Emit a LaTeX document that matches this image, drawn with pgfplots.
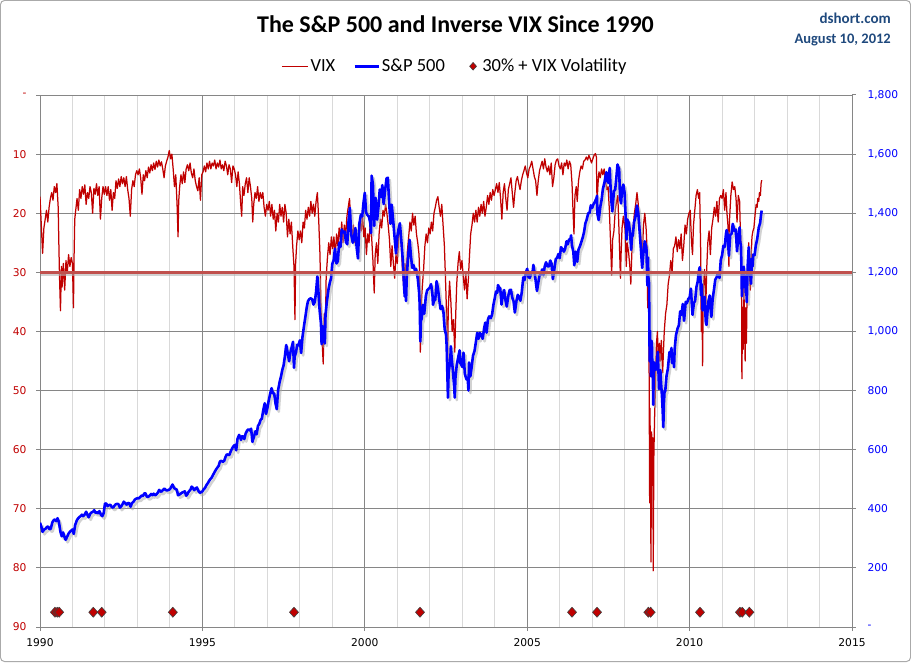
\documentclass[border=0pt]{standalone}
\usepackage{fontspec}
\setmainfont{Carlito}
\newfontfamily\tickfont{DejaVu Sans}
\usepackage{pgfplots}
\pgfplotsset{compat=1.18}
\usepackage{pgfplotstable}
\definecolor{vixred}{RGB}{192,0,0}
\definecolor{spblue}{RGB}{0,0,255}
\definecolor{thirty}{RGB}{192,80,77}
\definecolor{gmaj}{RGB}{134,134,134}
\definecolor{gmin}{RGB}{217,217,217}
\definecolor{hdr}{RGB}{31,73,125}
\pgfplotsset{
  legvix/.style={legend image code/.code={\draw[##1] (0pt,0pt) -- (26pt,0pt);}},
  legsp/.style={legend image code/.code={\draw[##1] (0pt,0pt) -- (24pt,0pt);}},
  legdia/.style={legend image code/.code={\path (0pt,0pt) (17pt,0pt); \draw[##1, only marks, mark size=3.8pt] plot coordinates {(10pt,0pt)};}},
}

\pgfplotstableread[row sep=\\]{
t v\\
1990.00 17.2\\ 1990.04 22.0\\ 1990.08 26.8\\ 1990.12 22.5\\ 1990.16 21.0\\ 1990.20 19.5\\ 1990.24 21.5\\ 1990.28 19.0\\ 1990.32 17.5\\ 1990.36 16.5\\ 1990.40 17.8\\ 1990.44 15.5\\ 1990.48 16.5\\ 1990.52 15.0\\ 1990.56 19.0\\ 1990.58 25.0\\ 1990.60 30.5\\ 1990.63 36.5\\ 1990.66 29.0\\ 1990.68 32.5\\ 1990.72 28.5\\ 1990.76 33.0\\ 1990.80 28.0\\ 1990.84 30.0\\ 1990.88 27.0\\ 1990.92 29.0\\ 1990.96 27.5\\
1991.00 28.5\\ 1991.03 36.0\\ 1991.05 27.0\\ 1991.07 21.0\\ 1991.10 19.5\\ 1991.14 17.5\\ 1991.18 19.5\\ 1991.22 16.0\\ 1991.26 17.5\\ 1991.30 15.5\\ 1991.34 16.8\\ 1991.38 15.2\\ 1991.42 18.5\\ 1991.46 16.5\\ 1991.50 17.5\\ 1991.54 15.5\\ 1991.58 16.5\\ 1991.62 20.0\\ 1991.66 15.8\\ 1991.70 16.8\\ 1991.74 15.0\\ 1991.78 17.0\\ 1991.82 15.5\\ 1991.86 21.0\\ 1991.90 17.5\\ 1991.94 15.5\\ 1991.98 16.8\\
1992.02 15.5\\ 1992.06 17.0\\ 1992.10 15.5\\ 1992.14 17.8\\ 1992.18 16.0\\ 1992.22 19.5\\ 1992.26 16.5\\ 1992.30 17.5\\ 1992.34 14.5\\ 1992.38 15.8\\ 1992.42 14.2\\ 1992.46 15.5\\ 1992.50 13.8\\ 1992.54 15.0\\ 1992.58 14.0\\ 1992.62 15.5\\ 1992.66 13.8\\ 1992.70 16.0\\ 1992.74 17.5\\ 1992.78 20.5\\ 1992.82 16.0\\ 1992.86 14.5\\ 1992.90 15.5\\ 1992.94 13.5\\ 1992.98 12.8\\
1993.02 13.5\\ 1993.06 12.5\\ 1993.10 14.0\\ 1993.14 16.8\\ 1993.18 13.5\\ 1993.22 14.5\\ 1993.26 12.8\\ 1993.30 14.0\\ 1993.34 12.2\\ 1993.38 13.2\\ 1993.42 11.8\\ 1993.46 12.8\\ 1993.50 11.5\\ 1993.54 12.6\\ 1993.58 11.2\\ 1993.62 12.2\\ 1993.66 11.0\\ 1993.70 12.0\\ 1993.74 11.3\\ 1993.78 12.5\\ 1993.82 14.0\\ 1993.86 12.0\\ 1993.90 11.2\\ 1993.94 10.5\\ 1993.98 9.4\\
1994.02 10.8\\ 1994.06 10.0\\ 1994.10 12.5\\ 1994.14 15.5\\ 1994.18 13.5\\ 1994.22 18.5\\ 1994.25 24.0\\ 1994.27 18.0\\ 1994.30 15.5\\ 1994.34 13.5\\ 1994.38 15.0\\ 1994.42 13.0\\ 1994.46 14.8\\ 1994.50 12.5\\ 1994.54 11.8\\ 1994.58 12.8\\ 1994.62 11.5\\ 1994.66 13.2\\ 1994.70 14.0\\ 1994.74 12.5\\ 1994.78 14.5\\ 1994.82 15.5\\ 1994.86 16.2\\ 1994.90 14.0\\ 1994.94 17.8\\ 1994.98 13.5\\
1995.02 13.0\\ 1995.06 12.0\\ 1995.10 13.0\\ 1995.14 11.5\\ 1995.18 12.5\\ 1995.22 11.2\\ 1995.26 12.5\\ 1995.30 11.5\\ 1995.34 12.0\\ 1995.38 11.0\\ 1995.42 12.5\\ 1995.46 11.5\\ 1995.50 12.2\\ 1995.54 11.0\\ 1995.58 12.5\\ 1995.62 11.8\\ 1995.66 12.8\\ 1995.70 11.2\\ 1995.74 12.0\\ 1995.78 13.5\\ 1995.82 11.8\\ 1995.86 12.5\\ 1995.90 14.8\\ 1995.94 12.0\\ 1995.98 12.5\\
1996.02 13.5\\ 1996.06 15.5\\ 1996.10 13.0\\ 1996.14 15.0\\ 1996.18 18.5\\ 1996.21 20.5\\ 1996.24 15.5\\ 1996.28 17.0\\ 1996.32 15.0\\ 1996.36 14.0\\ 1996.40 16.5\\ 1996.44 14.0\\ 1996.48 15.5\\ 1996.52 17.5\\ 1996.55 21.5\\ 1996.58 18.5\\ 1996.62 16.5\\ 1996.66 17.5\\ 1996.70 15.5\\ 1996.74 18.0\\ 1996.78 16.5\\ 1996.82 17.5\\ 1996.86 16.5\\ 1996.90 19.0\\ 1996.94 20.5\\ 1996.98 18.5\\
1997.02 19.5\\ 1997.06 18.0\\ 1997.10 20.5\\ 1997.14 18.5\\ 1997.18 21.0\\ 1997.22 19.5\\ 1997.26 23.0\\ 1997.30 20.0\\ 1997.34 21.5\\ 1997.38 18.5\\ 1997.42 20.5\\ 1997.46 19.0\\ 1997.50 21.5\\ 1997.54 18.5\\ 1997.58 20.0\\ 1997.62 24.0\\ 1997.66 21.0\\ 1997.70 23.5\\ 1997.74 21.5\\ 1997.78 25.5\\ 1997.82 29.0\\ 1997.85 38.0\\ 1997.87 28.5\\ 1997.90 25.5\\ 1997.94 23.0\\ 1997.98 24.5\\
1998.02 23.0\\ 1998.06 25.0\\ 1998.10 21.5\\ 1998.14 22.5\\ 1998.18 19.5\\ 1998.22 21.0\\ 1998.26 19.0\\ 1998.30 20.5\\ 1998.34 18.0\\ 1998.38 20.0\\ 1998.42 18.5\\ 1998.46 20.5\\ 1998.50 18.0\\ 1998.54 16.5\\ 1998.58 21.0\\ 1998.62 27.0\\ 1998.65 36.0\\ 1998.68 41.0\\ 1998.72 45.5\\ 1998.75 37.0\\ 1998.78 42.0\\ 1998.81 31.0\\ 1998.85 27.5\\ 1998.89 25.0\\ 1998.93 27.0\\ 1998.97 24.0\\
1999.01 26.0\\ 1999.05 24.0\\ 1999.09 27.5\\ 1999.13 23.5\\ 1999.17 25.5\\ 1999.21 22.5\\ 1999.25 24.5\\ 1999.29 21.5\\ 1999.33 25.0\\ 1999.37 22.0\\ 1999.41 24.0\\ 1999.45 20.5\\ 1999.49 19.0\\ 1999.53 17.5\\ 1999.57 21.5\\ 1999.61 24.5\\ 1999.65 22.0\\ 1999.69 25.0\\ 1999.73 23.0\\ 1999.77 27.0\\ 1999.81 24.0\\ 1999.85 21.5\\ 1999.89 23.0\\ 1999.93 20.5\\ 1999.97 24.0\\
2000.01 22.5\\ 2000.05 27.0\\ 2000.09 23.5\\ 2000.13 25.0\\ 2000.17 21.5\\ 2000.21 24.0\\ 2000.25 28.0\\ 2000.29 33.5\\ 2000.32 27.0\\ 2000.36 25.0\\ 2000.40 28.5\\ 2000.44 23.5\\ 2000.48 21.0\\ 2000.52 22.5\\ 2000.56 19.5\\ 2000.60 20.5\\ 2000.64 18.5\\ 2000.68 20.0\\ 2000.72 22.0\\ 2000.76 24.5\\ 2000.80 29.0\\ 2000.84 25.5\\ 2000.88 28.5\\ 2000.92 31.0\\ 2000.96 27.0\\
2001.00 28.5\\ 2001.04 24.5\\ 2001.08 22.0\\ 2001.12 25.0\\ 2001.16 29.5\\ 2001.20 32.5\\ 2001.24 28.5\\ 2001.27 33.0\\ 2001.31 26.5\\ 2001.35 24.0\\ 2001.39 21.5\\ 2001.43 23.0\\ 2001.47 20.0\\ 2001.51 22.0\\ 2001.55 20.5\\ 2001.59 23.5\\ 2001.63 25.0\\ 2001.67 27.0\\ 2001.69 31.0\\ 2001.71 43.5\\ 2001.73 36.0\\ 2001.77 32.5\\ 2001.81 29.5\\ 2001.85 25.5\\ 2001.89 23.5\\ 2001.93 25.0\\ 2001.97 22.5\\
2002.01 23.5\\ 2002.05 21.5\\ 2002.09 23.0\\ 2002.13 20.0\\ 2002.17 19.0\\ 2002.21 17.8\\ 2002.25 17.2\\ 2002.29 19.0\\ 2002.33 20.5\\ 2002.37 18.5\\ 2002.41 22.0\\ 2002.45 25.5\\ 2002.49 32.0\\ 2002.53 39.5\\ 2002.55 45.0\\ 2002.57 36.0\\ 2002.61 31.5\\ 2002.65 35.0\\ 2002.69 40.0\\ 2002.73 38.0\\ 2002.77 43.5\\ 2002.80 37.0\\ 2002.83 32.0\\ 2002.87 28.5\\ 2002.91 26.5\\ 2002.95 29.5\\ 2002.99 28.0\\
2003.03 30.5\\ 2003.07 33.0\\ 2003.11 30.0\\ 2003.15 34.5\\ 2003.19 31.0\\ 2003.22 27.5\\ 2003.26 23.5\\ 2003.30 22.0\\ 2003.34 20.0\\ 2003.38 21.5\\ 2003.42 19.5\\ 2003.46 21.5\\ 2003.50 19.0\\ 2003.54 20.5\\ 2003.58 18.5\\ 2003.62 20.0\\ 2003.66 18.0\\ 2003.70 20.5\\ 2003.74 19.0\\ 2003.78 17.0\\ 2003.82 18.5\\ 2003.86 16.5\\ 2003.90 17.8\\ 2003.94 16.0\\ 2003.98 17.0\\
2004.02 16.0\\ 2004.06 15.0\\ 2004.10 16.5\\ 2004.14 14.8\\ 2004.18 17.5\\ 2004.22 21.0\\ 2004.26 16.5\\ 2004.30 15.0\\ 2004.34 17.5\\ 2004.38 19.5\\ 2004.42 16.0\\ 2004.46 15.0\\ 2004.50 14.0\\ 2004.54 16.5\\ 2004.58 19.0\\ 2004.62 16.5\\ 2004.66 14.5\\ 2004.70 13.8\\ 2004.74 15.0\\ 2004.78 16.0\\ 2004.82 14.5\\ 2004.86 13.5\\ 2004.90 12.8\\ 2004.94 12.0\\ 2004.98 13.2\\
2005.02 14.0\\ 2005.06 12.5\\ 2005.10 12.0\\ 2005.14 11.2\\ 2005.18 12.5\\ 2005.22 13.8\\ 2005.26 14.5\\ 2005.30 17.0\\ 2005.34 14.5\\ 2005.38 12.8\\ 2005.42 12.0\\ 2005.46 11.2\\ 2005.50 12.5\\ 2005.54 10.8\\ 2005.58 12.2\\ 2005.62 13.0\\ 2005.66 12.0\\ 2005.70 13.5\\ 2005.74 11.5\\ 2005.78 15.5\\ 2005.82 14.0\\ 2005.86 11.8\\ 2005.90 11.0\\ 2005.94 10.8\\ 2005.98 12.0\\
2006.02 12.5\\ 2006.06 11.5\\ 2006.10 13.5\\ 2006.14 11.5\\ 2006.18 12.0\\ 2006.22 11.0\\ 2006.26 12.5\\ 2006.30 11.2\\ 2006.34 11.8\\ 2006.38 15.0\\ 2006.41 19.5\\ 2006.44 23.5\\ 2006.47 17.0\\ 2006.51 15.5\\ 2006.54 18.0\\ 2006.58 14.5\\ 2006.62 13.0\\ 2006.66 12.0\\ 2006.70 12.5\\ 2006.74 11.2\\ 2006.78 11.0\\ 2006.82 10.5\\ 2006.86 11.0\\ 2006.90 10.2\\ 2006.94 10.8\\ 2006.98 11.5\\
2007.02 10.8\\ 2007.06 10.2\\ 2007.10 9.9\\ 2007.13 10.5\\ 2007.15 18.5\\ 2007.18 15.0\\ 2007.21 13.0\\ 2007.25 14.0\\ 2007.29 12.5\\ 2007.33 13.5\\ 2007.37 12.5\\ 2007.41 14.5\\ 2007.45 16.0\\ 2007.49 15.5\\ 2007.53 19.5\\ 2007.57 25.5\\ 2007.60 30.5\\ 2007.63 24.5\\ 2007.67 23.0\\ 2007.71 19.5\\ 2007.75 18.0\\ 2007.79 17.0\\ 2007.83 23.5\\ 2007.87 31.0\\ 2007.89 27.0\\ 2007.92 22.5\\ 2007.96 20.5\\
2008.02 23.0\\ 2008.05 29.0\\ 2008.08 25.0\\ 2008.12 26.5\\ 2008.16 29.0\\ 2008.19 32.0\\ 2008.22 27.0\\ 2008.26 22.5\\ 2008.30 20.0\\ 2008.34 18.5\\ 2008.38 16.5\\ 2008.42 18.5\\ 2008.46 22.0\\ 2008.50 24.0\\ 2008.54 27.5\\ 2008.58 22.0\\ 2008.62 20.0\\ 2008.66 22.5\\ 2008.69 26.0\\ 2008.71 36.0\\ 2008.73 32.0\\ 2008.75 42.0\\ 2008.77 69.0\\ 2008.78 53.0\\ 2008.80 66.0\\ 2008.81 79.0\\ 2008.83 57.0\\ 2008.85 66.0\\ 2008.87 58.0\\ 2008.88 80.5\\ 2008.90 61.0\\ 2008.92 55.0\\ 2008.94 51.0\\ 2008.96 46.0\\ 2008.98 42.0\\
2009.01 40.0\\ 2009.04 46.0\\ 2009.07 42.0\\ 2009.10 45.0\\ 2009.13 41.5\\ 2009.17 47.0\\ 2009.19 44.0\\ 2009.22 40.0\\ 2009.26 37.0\\ 2009.30 35.5\\ 2009.34 32.0\\ 2009.38 30.5\\ 2009.42 28.0\\ 2009.46 30.0\\ 2009.50 26.0\\ 2009.54 25.5\\ 2009.58 24.0\\ 2009.62 26.5\\ 2009.66 24.5\\ 2009.70 26.0\\ 2009.74 23.5\\ 2009.78 28.0\\ 2009.82 25.5\\ 2009.86 22.0\\ 2009.90 23.5\\ 2009.94 21.0\\ 2009.98 20.0\\
2010.02 19.5\\ 2010.06 25.0\\ 2010.09 27.0\\ 2010.12 22.0\\ 2010.16 19.5\\ 2010.20 17.0\\ 2010.24 16.0\\ 2010.28 17.5\\ 2010.31 16.5\\ 2010.34 26.0\\ 2010.36 40.0\\ 2010.38 33.0\\ 2010.40 45.8\\ 2010.42 33.0\\ 2010.46 29.5\\ 2010.50 35.5\\ 2010.53 29.0\\ 2010.56 25.0\\ 2010.60 23.0\\ 2010.64 27.0\\ 2010.68 22.5\\ 2010.72 21.0\\ 2010.76 19.0\\ 2010.80 20.5\\ 2010.84 18.0\\ 2010.88 21.5\\ 2010.92 17.5\\ 2010.96 17.0\\
2011.00 17.5\\ 2011.04 16.0\\ 2011.08 19.5\\ 2011.12 16.5\\ 2011.15 20.0\\ 2011.18 22.0\\ 2011.21 29.0\\ 2011.23 21.0\\ 2011.27 17.0\\ 2011.31 14.7\\ 2011.35 16.0\\ 2011.39 15.5\\ 2011.43 17.5\\ 2011.46 21.5\\ 2011.50 17.0\\ 2011.54 18.0\\ 2011.56 22.5\\ 2011.58 25.0\\ 2011.60 32.0\\ 2011.61 48.0\\ 2011.63 36.0\\ 2011.65 43.0\\ 2011.67 32.0\\ 2011.69 38.0\\ 2011.71 45.0\\ 2011.73 36.0\\ 2011.75 42.0\\ 2011.77 33.0\\ 2011.79 29.0\\ 2011.82 25.0\\ 2011.85 31.0\\ 2011.87 33.0\\ 2011.89 28.0\\ 2011.92 24.0\\ 2011.95 23.0\\ 2011.98 22.5\\
2012.02 20.0\\ 2012.05 18.5\\ 2012.08 19.0\\ 2012.10 17.5\\ 2012.13 18.0\\ 2012.15 16.5\\ 2012.18 17.0\\ 2012.20 15.0\\ 2012.22 14.4\\
}\vixdata

\pgfplotstableread[row sep=\\]{
t s\\
1990.00 353\\ 1990.04 340\\ 1990.08 322\\ 1990.13 330\\ 1990.17 332\\ 1990.21 338\\ 1990.25 340\\ 1990.29 331\\ 1990.33 332\\ 1990.38 354\\ 1990.42 361\\ 1990.46 364\\ 1990.50 358\\ 1990.54 368\\ 1990.58 356\\ 1990.63 322\\ 1990.67 307\\ 1990.71 320\\ 1990.75 306\\ 1990.79 295\\ 1990.83 304\\ 1990.88 316\\ 1990.92 322\\ 1990.96 326\\
1991.00 330\\ 1991.04 315\\ 1991.08 344\\ 1991.13 360\\ 1991.17 367\\ 1991.21 372\\ 1991.25 375\\ 1991.29 380\\ 1991.33 375\\ 1991.38 381\\ 1991.42 390\\ 1991.46 380\\ 1991.50 371\\ 1991.54 382\\ 1991.58 387\\ 1991.63 390\\ 1991.67 395\\ 1991.71 386\\ 1991.75 388\\ 1991.79 385\\ 1991.83 392\\ 1991.88 379\\ 1991.92 375\\ 1991.96 385\\
1992.00 417\\ 1992.04 418\\ 1992.08 409\\ 1992.13 413\\ 1992.17 413\\ 1992.21 406\\ 1992.25 404\\ 1992.29 410\\ 1992.33 415\\ 1992.38 417\\ 1992.42 415\\ 1992.46 404\\ 1992.50 408\\ 1992.54 415\\ 1992.58 424\\ 1992.63 418\\ 1992.67 414\\ 1992.71 420\\ 1992.75 418\\ 1992.79 407\\ 1992.83 419\\ 1992.88 424\\ 1992.92 431\\ 1992.96 434\\
1993.00 436\\ 1993.04 435\\ 1993.08 439\\ 1993.13 445\\ 1993.17 443\\ 1993.21 452\\ 1993.25 452\\ 1993.29 441\\ 1993.33 440\\ 1993.38 445\\ 1993.42 450\\ 1993.46 446\\ 1993.50 451\\ 1993.54 446\\ 1993.58 448\\ 1993.63 455\\ 1993.67 464\\ 1993.71 458\\ 1993.75 459\\ 1993.79 464\\ 1993.83 468\\ 1993.88 463\\ 1993.92 462\\ 1993.96 464\\
1994.00 466\\ 1994.04 474\\ 1994.08 482\\ 1994.13 470\\ 1994.17 467\\ 1994.21 465\\ 1994.25 446\\ 1994.29 448\\ 1994.33 451\\ 1994.38 455\\ 1994.42 457\\ 1994.46 459\\ 1994.50 444\\ 1994.54 450\\ 1994.58 458\\ 1994.63 464\\ 1994.67 475\\ 1994.71 470\\ 1994.75 463\\ 1994.79 469\\ 1994.83 472\\ 1994.88 460\\ 1994.92 454\\ 1994.96 456\\
1995.00 459\\ 1995.04 466\\ 1995.08 470\\ 1995.13 481\\ 1995.17 487\\ 1995.21 495\\ 1995.25 501\\ 1995.29 506\\ 1995.33 515\\ 1995.38 525\\ 1995.42 533\\ 1995.46 539\\ 1995.50 545\\ 1995.54 560\\ 1995.58 562\\ 1995.63 559\\ 1995.67 562\\ 1995.71 575\\ 1995.75 584\\ 1995.79 583\\ 1995.83 582\\ 1995.88 596\\ 1995.92 605\\ 1995.96 612\\
1996.00 616\\ 1996.04 598\\ 1996.08 636\\ 1996.13 650\\ 1996.17 640\\ 1996.19 633\\ 1996.21 645\\ 1996.25 645\\ 1996.29 636\\ 1996.33 654\\ 1996.38 665\\ 1996.42 669\\ 1996.46 665\\ 1996.50 671\\ 1996.54 626\\ 1996.56 635\\ 1996.58 640\\ 1996.63 662\\ 1996.67 652\\ 1996.71 680\\ 1996.75 687\\ 1996.79 700\\ 1996.83 705\\ 1996.88 737\\ 1996.92 757\\ 1996.96 721\\
1997.00 741\\ 1997.04 765\\ 1997.08 786\\ 1997.13 808\\ 1997.17 791\\ 1997.21 790\\ 1997.25 757\\ 1997.29 737\\ 1997.33 801\\ 1997.38 830\\ 1997.42 848\\ 1997.46 870\\ 1997.50 885\\ 1997.54 916\\ 1997.58 954\\ 1997.63 925\\ 1997.67 899\\ 1997.71 929\\ 1997.75 947\\ 1997.79 965\\ 1997.82 877\\ 1997.84 915\\ 1997.88 928\\ 1997.92 955\\ 1997.96 953\\
1998.00 970\\ 1998.04 927\\ 1998.08 980\\ 1998.13 1020\\ 1998.17 1049\\ 1998.21 1080\\ 1998.25 1102\\ 1998.29 1109\\ 1998.33 1112\\ 1998.38 1109\\ 1998.42 1091\\ 1998.46 1100\\ 1998.50 1134\\ 1998.54 1187\\ 1998.58 1121\\ 1998.61 1070\\ 1998.65 1027\\ 1998.67 957\\ 1998.71 1017\\ 1998.75 986\\ 1998.77 959\\ 1998.79 1056\\ 1998.83 1099\\ 1998.88 1141\\ 1998.92 1164\\ 1998.96 1180\\
1999.00 1229\\ 1999.04 1240\\ 1999.08 1280\\ 1999.13 1230\\ 1999.17 1238\\ 1999.21 1300\\ 1999.25 1286\\ 1999.29 1345\\ 1999.33 1335\\ 1999.38 1338\\ 1999.42 1302\\ 1999.46 1295\\ 1999.50 1373\\ 1999.54 1418\\ 1999.58 1329\\ 1999.63 1300\\ 1999.67 1320\\ 1999.71 1350\\ 1999.75 1283\\ 1999.79 1247\\ 1999.83 1363\\ 1999.88 1395\\ 1999.92 1389\\ 1999.96 1435\\
2000.00 1469\\ 2000.04 1402\\ 2000.08 1394\\ 2000.13 1388\\ 2000.17 1366\\ 2000.19 1333\\ 2000.21 1527\\ 2000.25 1499\\ 2000.29 1357\\ 2000.31 1440\\ 2000.33 1452\\ 2000.38 1378\\ 2000.42 1421\\ 2000.46 1480\\ 2000.50 1455\\ 2000.54 1495\\ 2000.58 1431\\ 2000.63 1482\\ 2000.67 1518\\ 2000.71 1520\\ 2000.75 1437\\ 2000.79 1364\\ 2000.83 1429\\ 2000.88 1367\\ 2000.92 1315\\ 2000.96 1264\\
2001.00 1320\\ 2001.04 1347\\ 2001.08 1366\\ 2001.13 1300\\ 2001.17 1240\\ 2001.21 1150\\ 2001.23 1118\\ 2001.25 1160\\ 2001.27 1103\\ 2001.29 1180\\ 2001.33 1249\\ 2001.38 1310\\ 2001.42 1256\\ 2001.46 1215\\ 2001.50 1224\\ 2001.54 1208\\ 2001.58 1211\\ 2001.63 1180\\ 2001.67 1134\\ 2001.69 1092\\ 2001.71 966\\ 2001.73 1040\\ 2001.75 1041\\ 2001.79 1090\\ 2001.83 1060\\ 2001.88 1120\\ 2001.92 1139\\ 2001.96 1144\\
2002.00 1148\\ 2002.04 1160\\ 2002.08 1130\\ 2002.10 1090\\ 2002.13 1104\\ 2002.17 1107\\ 2002.21 1170\\ 2002.25 1147\\ 2002.29 1110\\ 2002.33 1076\\ 2002.38 1086\\ 2002.42 1067\\ 2002.46 1007\\ 2002.50 990\\ 2002.52 952\\ 2002.56 776\\ 2002.58 860\\ 2002.63 900\\ 2002.65 950\\ 2002.67 916\\ 2002.71 870\\ 2002.75 815\\ 2002.77 776\\ 2002.79 842\\ 2002.83 886\\ 2002.88 915\\ 2002.92 936\\ 2002.94 893\\ 2002.96 890\\
2003.00 880\\ 2003.04 928\\ 2003.08 856\\ 2003.13 838\\ 2003.17 841\\ 2003.19 800\\ 2003.21 895\\ 2003.25 848\\ 2003.29 880\\ 2003.33 917\\ 2003.38 935\\ 2003.42 964\\ 2003.46 995\\ 2003.50 975\\ 2003.54 995\\ 2003.58 990\\ 2003.63 975\\ 2003.67 1008\\ 2003.71 1030\\ 2003.75 996\\ 2003.79 1040\\ 2003.83 1051\\ 2003.88 1045\\ 2003.92 1058\\ 2003.96 1090\\
2004.00 1112\\ 2004.04 1135\\ 2004.08 1131\\ 2004.10 1157\\ 2004.13 1150\\ 2004.17 1145\\ 2004.21 1091\\ 2004.25 1126\\ 2004.29 1140\\ 2004.33 1107\\ 2004.37 1084\\ 2004.42 1121\\ 2004.46 1140\\ 2004.50 1141\\ 2004.54 1115\\ 2004.58 1102\\ 2004.62 1064\\ 2004.67 1104\\ 2004.71 1124\\ 2004.75 1115\\ 2004.79 1104\\ 2004.83 1130\\ 2004.88 1183\\ 2004.92 1174\\ 2004.96 1200\\
2005.00 1212\\ 2005.04 1184\\ 2005.08 1181\\ 2005.13 1200\\ 2005.17 1204\\ 2005.19 1225\\ 2005.25 1181\\ 2005.30 1137\\ 2005.33 1157\\ 2005.38 1190\\ 2005.42 1192\\ 2005.46 1210\\ 2005.50 1191\\ 2005.54 1220\\ 2005.58 1234\\ 2005.63 1220\\ 2005.67 1220\\ 2005.71 1240\\ 2005.75 1229\\ 2005.79 1177\\ 2005.83 1207\\ 2005.88 1245\\ 2005.92 1249\\ 2005.96 1262\\
2006.00 1248\\ 2006.04 1285\\ 2006.08 1280\\ 2006.13 1270\\ 2006.17 1281\\ 2006.21 1305\\ 2006.25 1295\\ 2006.29 1312\\ 2006.33 1311\\ 2006.35 1325\\ 2006.38 1290\\ 2006.42 1270\\ 2006.45 1224\\ 2006.50 1270\\ 2006.54 1236\\ 2006.58 1277\\ 2006.63 1290\\ 2006.67 1304\\ 2006.71 1318\\ 2006.75 1336\\ 2006.79 1365\\ 2006.83 1378\\ 2006.88 1400\\ 2006.92 1401\\ 2006.96 1427\\
2007.00 1418\\ 2007.04 1430\\ 2007.08 1438\\ 2007.13 1450\\ 2007.15 1459\\ 2007.16 1399\\ 2007.20 1377\\ 2007.25 1421\\ 2007.29 1445\\ 2007.33 1482\\ 2007.38 1505\\ 2007.42 1531\\ 2007.44 1539\\ 2007.46 1510\\ 2007.50 1503\\ 2007.54 1553\\ 2007.58 1455\\ 2007.62 1406\\ 2007.67 1474\\ 2007.71 1480\\ 2007.75 1527\\ 2007.78 1565\\ 2007.83 1549\\ 2007.86 1450\\ 2007.89 1433\\ 2007.92 1481\\ 2007.96 1497\\
2008.00 1468\\ 2008.03 1390\\ 2008.06 1311\\ 2008.08 1379\\ 2008.13 1367\\ 2008.17 1331\\ 2008.20 1276\\ 2008.23 1330\\ 2008.25 1323\\ 2008.29 1370\\ 2008.33 1386\\ 2008.38 1426\\ 2008.42 1400\\ 2008.46 1340\\ 2008.50 1280\\ 2008.54 1215\\ 2008.58 1267\\ 2008.62 1305\\ 2008.67 1283\\ 2008.70 1156\\ 2008.72 1250\\ 2008.73 1185\\ 2008.75 1165\\ 2008.76 1056\\ 2008.77 899\\ 2008.78 1003\\ 2008.79 908\\ 2008.80 946\\ 2008.81 848\\ 2008.83 968\\ 2008.84 952\\ 2008.85 900\\ 2008.87 850\\ 2008.88 752\\ 2008.90 896\\ 2008.92 870\\ 2008.94 885\\ 2008.96 870\\
2009.00 903\\ 2009.02 931\\ 2009.04 870\\ 2009.06 805\\ 2009.08 826\\ 2009.10 869\\ 2009.12 827\\ 2009.15 780\\ 2009.17 735\\ 2009.19 676\\ 2009.21 760\\ 2009.23 800\\ 2009.25 798\\ 2009.29 850\\ 2009.33 873\\ 2009.38 930\\ 2009.42 919\\ 2009.44 944\\ 2009.46 893\\ 2009.50 919\\ 2009.52 879\\ 2009.54 940\\ 2009.58 987\\ 2009.63 1010\\ 2009.67 1021\\ 2009.71 1068\\ 2009.75 1057\\ 2009.79 1093\\ 2009.83 1036\\ 2009.88 1100\\ 2009.92 1096\\ 2009.96 1110\\
2010.00 1115\\ 2010.04 1145\\ 2010.07 1090\\ 2010.09 1056\\ 2010.13 1095\\ 2010.17 1104\\ 2010.21 1150\\ 2010.25 1169\\ 2010.28 1200\\ 2010.31 1217\\ 2010.33 1187\\ 2010.35 1122\\ 2010.37 1160\\ 2010.40 1071\\ 2010.42 1089\\ 2010.46 1117\\ 2010.48 1070\\ 2010.50 1031\\ 2010.52 1022\\ 2010.56 1080\\ 2010.58 1102\\ 2010.62 1122\\ 2010.65 1075\\ 2010.67 1049\\ 2010.71 1110\\ 2010.75 1141\\ 2010.79 1175\\ 2010.83 1183\\ 2010.88 1200\\ 2010.92 1181\\ 2010.96 1242\\
2011.00 1258\\ 2011.04 1290\\ 2011.08 1286\\ 2011.12 1330\\ 2011.14 1343\\ 2011.17 1327\\ 2011.21 1256\\ 2011.25 1326\\ 2011.29 1330\\ 2011.33 1364\\ 2011.38 1340\\ 2011.42 1345\\ 2011.46 1271\\ 2011.50 1321\\ 2011.54 1352\\ 2011.56 1300\\ 2011.58 1292\\ 2011.60 1200\\ 2011.61 1119\\ 2011.63 1172\\ 2011.64 1204\\ 2011.67 1219\\ 2011.69 1150\\ 2011.71 1190\\ 2011.73 1131\\ 2011.75 1131\\ 2011.76 1099\\ 2011.79 1225\\ 2011.82 1285\\ 2011.83 1253\\ 2011.86 1210\\ 2011.89 1161\\ 2011.92 1247\\ 2011.94 1220\\ 2011.96 1260\\
2012.00 1258\\ 2012.04 1292\\ 2012.08 1312\\ 2012.13 1352\\ 2012.17 1366\\ 2012.20 1395\\ 2012.22 1409\\
}\spdata

\begin{document}
\begin{tikzpicture}
\path[use as bounding box] (-40pt,-35pt) rectangle (871pt,627pt);
\draw[gmaj!70, line width=1pt, rounded corners=4pt] (-39.5pt,-34.5pt) rectangle (870.5pt,626.5pt);
\pgfplotsset{every axis/.append style={scale only axis, width=812pt, height=532pt, xmin=1990, xmax=2015, at={(0pt,0pt)}, anchor=south west}}

% Axis A: VIX (left, inverted) with grid
\begin{axis}[
  y dir=reverse, ymin=0, ymax=90,
  axis line style={gmaj, line width=1pt},
  xtick={1990,1995,2000,2005,2010,2015},
  xticklabels={1990,1995,2000,2005,2010,2015},
  minor xtick={1991,1992,1993,1994,1996,1997,1998,1999,2001,2002,2003,2004,2006,2007,2008,2009,2011,2012,2013,2014},
  xtick pos=bottom, ytick pos=left,
  ytick={0,10,20,30,40,50,60,70,80,90},
  yticklabels={-,10,20,30,40,50,60,70,80,90},
  tick align=outside, major tick length=4pt, minor tick length=0pt,
  tick style={gmaj, line width=1pt},
  xmajorgrids=true, ymajorgrids=true, xminorgrids=true,
  major grid style={gmaj, line width=1pt},
  minor grid style={gmin, line width=1pt},
  yticklabel style={text=vixred, font=\tickfont\fontsize{10.7}{12}\selectfont, xshift=-6pt},
  xticklabel style={text=black, font=\tickfont\fontsize{10.7}{12}\selectfont, yshift=-4pt},
]
\addplot[vixred, line width=1.25pt, line join=round] table[x=t,y=v]{\vixdata};
\end{axis}

% Axis B: S&P 500 (right)
\begin{axis}[
  ymin=0, ymax=1800, hide x axis, axis y line*=right,
  axis line style={gmaj, line width=1pt},
  ytick={0,200,400,600,800,1000,1200,1400,1600,1800},
  yticklabels={-,200,400,600,800,{1,000},{1,200},{1,400},{1,600},{1,800}},
  tick align=outside, major tick length=4pt,
  tick style={gmaj, line width=1pt},
  yticklabel style={text=spblue, font=\tickfont\fontsize{10.7}{12}\selectfont, xshift=8pt},
]
\addplot[black!35, opacity=0.5, line width=2.6pt, line join=round, xshift=2pt, yshift=-2.5pt] table[x=t,y=s]{\spdata};
\addplot[spblue, line width=2.6pt, line join=round] table[x=t,y=s]{\spdata};
\end{axis}

% Axis C: 30 line, diamonds, legend
\begin{axis}[
  hide axis, y dir=reverse, ymin=0, ymax=90,
  legend style={at={(0.511,1.054)}, anchor=center, draw=none, fill=none,
    font=\fontsize{18.5}{20}\selectfont,
    /tikz/every even column/.append style={column sep=16pt}},
  legend columns=-1, legend cell align=left,
]
\addplot[black!30, opacity=0.6, line width=2.5pt, xshift=1pt, yshift=-2.5pt, forget plot] coordinates {(1990,30) (2015,30)};
\addplot[thirty, line width=2.5pt, forget plot] coordinates {(1990,30) (2015,30)};
\addlegendimage{vixred, line width=1.25pt, legvix}
\addlegendentry{VIX}
\addlegendimage{spblue, line width=2.6pt, legsp}
\addlegendentry{S\&P 500}
\addplot[only marks, mark=diamond*, mark size=5pt, mark options={xscale=1.2, fill=vixred, draw=black!75, line width=0.6pt}, legdia]
  coordinates {(1990.46,87.5) (1990.53,87.5) (1990.59,87.5) (1991.64,87.5) (1991.90,87.5) (1994.09,87.5) (1997.82,87.5) (2001.70,87.5) (2006.38,87.5) (2007.15,87.5) (2008.73,87.5) (2008.80,87.5) (2010.32,87.5) (2011.55,87.5) (2011.62,87.5) (2011.84,87.5)};
\addlegendentry{30\% + VIX Volatility}
\end{axis}

\node[anchor=base, font=\bfseries\fontsize{24}{28}\selectfont] at (415.5pt,594pt) {The S\&P 500 and Inverse VIX Since 1990};
\node[anchor=base east, inner sep=0pt, text=hdr, font=\bfseries\fontsize{15}{18}\selectfont] at (851pt,603pt) {dshort.com};
\node[anchor=base east, inner sep=0pt, text=hdr, font=\bfseries\fontsize{14.5}{18}\selectfont] at (851pt,583pt) {August 10, 2012};
\end{tikzpicture}
\end{document}
